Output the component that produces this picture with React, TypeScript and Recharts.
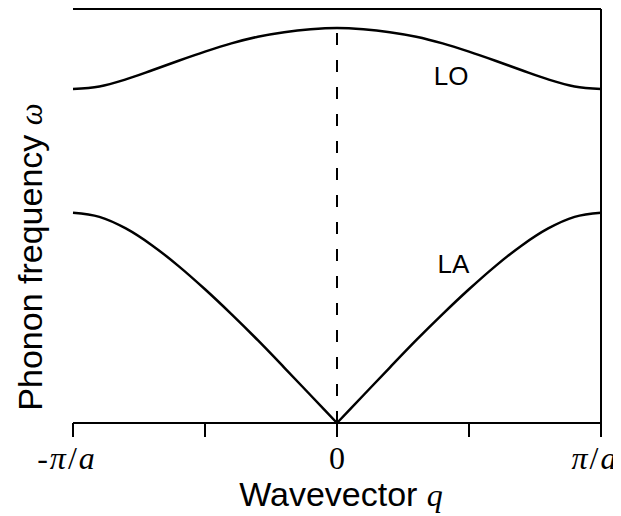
import { LineChart, Line, XAxis, YAxis, ReferenceLine, ReferenceDot } from 'recharts';

// Wavevector in units of pi/a, across the first Brillouin zone
const qValues = [-1, -0.9, -0.8, -0.7, -0.6, -0.5, -0.4, -0.3, -0.2, -0.1, 0, 0.1, 0.2, 0.3, 0.4, 0.5, 0.6, 0.7, 0.8, 0.9, 1];
// Optical branch (LO)
const loValues = [0.807, 0.813, 0.83, 0.852, 0.875, 0.897, 0.917, 0.933, 0.944, 0.951, 0.954, 0.951, 0.944, 0.933, 0.917, 0.897, 0.875, 0.852, 0.83, 0.813, 0.807];
// Acoustic branch (LA)
const laValues = [0.508, 0.498, 0.47, 0.429, 0.379, 0.323, 0.263, 0.2, 0.134, 0.067, 0, 0.067, 0.134, 0.2, 0.263, 0.323, 0.379, 0.429, 0.47, 0.498, 0.508];

const majorTicks = [-1, -0.5, 0, 0.5, 1];
const minorTicks = [-0.75, -0.25, 0.25, 0.75];
const topTicks = [-0.75, -0.5, -0.25, 0, 0.25, 0.5, 0.75];

const branchLabels = [
  { name: 'LO', q: 0.432, w: 0.838 },
  { name: 'LA', q: 0.441, w: 0.384 },
];

// LA is split at q = 0 so the cusp stays sharp
const data = qValues.map((q, i) => ({
  q,
  lo: loValues[i],
  laLeft: q <= 0 ? laValues[i] : undefined,
  laRight: q >= 0 ? laValues[i] : undefined,
}));

const SANS = '"Liberation Sans", Arial, sans-serif';
const SERIF = '"Liberation Serif", "Times New Roman", serif';

const renderQTick = (props: any) => {
  const { x, y, payload } = props;
  const v = payload.value;
  if (v !== -1 && v !== 0 && v !== 1) return <g />;
  const dx = v === 0 ? 0 : -7;
  return (
    <text x={x + dx} y={y + 32} textAnchor="middle" fontFamily={SERIF} fontSize={32} fill="#000">
      {v === 0 ? (
        '0'
      ) : (
        <>
          {v < 0 && <tspan>-</tspan>}
          <tspan fontStyle="italic" dx={v < 0 ? 2 : 0}>π</tspan>
          <tspan dx={2}>/</tspan>
          <tspan fontStyle="italic" dx={2}>a</tspan>
        </>
      )}
    </text>
  );
};

// Both axis titles are drawn from the bottom axis label slot
const renderAxisTitles = (props: any) => {
  const { x, y, width } = props.viewBox;
  return (
    <g>
      <text x={x + width / 2 + 4} y={y + 83} textAnchor="middle" fill="#000" fontSize={34} fontFamily={SANS}>
        Wavevector{' '}
        <tspan fontFamily={SERIF} fontStyle="italic" fontSize={32}>q</tspan>
      </text>
      <text
        x={34}
        y={249}
        transform="rotate(-90 34 249)"
        textAnchor="middle"
        fill="#000"
        fontSize={34}
        fontFamily={SANS}
      >
        Phonon frequency{' '}
        <tspan fontFamily={SERIF} fontStyle="italic" fontSize={31}>ω</tspan>
      </text>
    </g>
  );
};

const branchText = (name: string) => (props: any) => {
  const { x, y } = props.viewBox;
  return (
    <text x={x} y={y} textAnchor="middle" dominantBaseline="central" fill="#000" fontSize={26} fontFamily={SANS}>
      {name}
    </text>
  );
};

export default function App() {
  return (
    <LineChart width={613} height={508} data={data} margin={{ top: 1, right: 20, bottom: 33, left: 65 }}>
      <XAxis
        dataKey="q"
        type="number"
        domain={[-1, 1]}
        ticks={majorTicks}
        interval={0}
        height={60}
        tickSize={14}
        tickMargin={0}
        stroke="#000"
        axisLine={{ stroke: '#000', strokeWidth: 2 }}
        tickLine={{ stroke: '#000', strokeWidth: 2 }}
        tick={renderQTick}
        label={renderAxisTitles}
      />
      <XAxis
        xAxisId="minor"
        dataKey="q"
        type="number"
        domain={[-1, 1]}
        ticks={minorTicks}
        interval={0}
        mirror
        tickSize={3}
        axisLine={false}
        tickLine={{ stroke: '#000', strokeWidth: 1.5 }}
        tick={false}
      />
      <XAxis
        xAxisId="top"
        orientation="top"
        dataKey="q"
        type="number"
        domain={[-1, 1]}
        ticks={topTicks}
        interval={0}
        mirror
        tickSize={3}
        axisLine={{ stroke: '#000', strokeWidth: 2 }}
        tickLine={{ stroke: '#000', strokeWidth: 1.5 }}
        tick={false}
      />
      <YAxis
        type="number"
        domain={[0, 1]}
        width={0}
        tick={false}
        tickLine={false}
        axisLine={{ stroke: '#000', strokeWidth: 2 }}
      />
      <YAxis
        yAxisId="right"
        orientation="right"
        type="number"
        domain={[0, 1]}
        mirror
        tick={false}
        tickLine={false}
        axisLine={{ stroke: '#000', strokeWidth: 2 }}
      />
      <ReferenceLine
        segment={[
          { x: 0, y: 0 },
          { x: 0, y: loValues[10] },
        ]}
        stroke="#000"
        strokeWidth={2}
        strokeDasharray="12 15"
      />
      <Line type="monotone" dataKey="lo" stroke="#000" strokeWidth={2.5} dot={false} isAnimationActive={false} />
      <Line type="monotone" dataKey="laLeft" stroke="#000" strokeWidth={2.5} dot={false} isAnimationActive={false} />
      <Line type="monotone" dataKey="laRight" stroke="#000" strokeWidth={2.5} dot={false} isAnimationActive={false} />
      {branchLabels.map((b) => (
        <ReferenceDot key={b.name} x={b.q} y={b.w} r={0} fill="none" stroke="none" label={branchText(b.name)} />
      ))}
    </LineChart>
  );
}
